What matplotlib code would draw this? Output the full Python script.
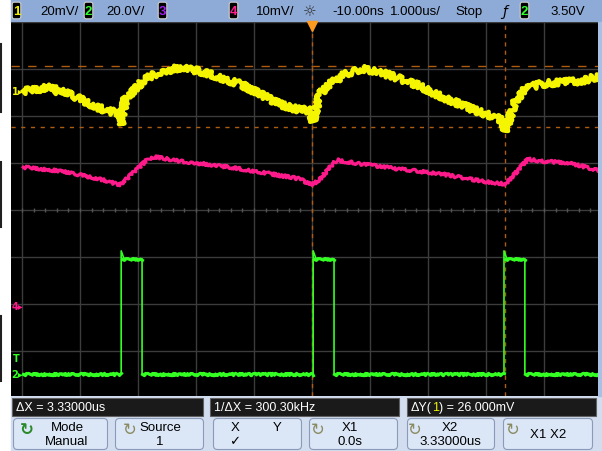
import matplotlib
matplotlib.use("Agg")
import matplotlib.pyplot as plt
from matplotlib.patches import Rectangle, FancyBboxPatch
import numpy as np

# ---------------- data (time in us, amplitude in screen divisions) ----------------
ch1_t = [-4.98, -4.69, -4.48, -4.43, -4.26, -4.00, -3.74, -3.55, -3.40, -3.31, -3.29,
         -3.22, -3.05, -2.88, -2.62, -2.22, -1.76, -1.24, -0.90, -0.55, -0.28, -0.02,
         0.02, 0.14, 0.31, 0.57, 0.88, 1.09, 1.43, 1.86, 2.21, 2.55, 2.90, 3.16, 3.29,
         3.33, 3.50, 3.67, 3.93, 4.28, 4.62, 4.97]
ch1_v = [2.52, 2.56, 2.65, 2.52, 2.50, 2.35, 2.20, 2.10, 2.07, 2.03, 1.82,
         2.35, 2.56, 2.78, 2.93, 3.03, 2.88, 2.67, 2.46, 2.24, 2.14, 2.10,
         1.88, 2.46, 2.67, 2.88, 2.99, 2.95, 2.82, 2.63, 2.41, 2.24, 2.07, 1.97, 1.88,
         1.67, 2.29, 2.56, 2.67, 2.71, 2.73, 2.84]

ch4_t = [-4.98, -4.34, -3.66, -3.31, -3.05, -2.83, -2.71, -2.28, -1.59, -0.90, -0.21,
         0.00, 0.14, 0.36, 0.43, 0.83, 1.52, 2.21, 2.90, 3.33, 3.50, 3.72, 3.93, 4.45, 4.97]
ch4_v = [0.90, 0.82, 0.65, 0.52, 0.82, 1.07, 1.12, 1.03, 0.93, 0.80, 0.65,
         0.52, 0.65, 0.97, 1.05, 0.97, 0.86, 0.76, 0.61, 0.54, 0.76, 1.07, 1.03, 0.99, 0.82]

ch2_rise = [-3.29, 0.02, 3.31]
ch2_fall = [-2.93, 0.38, 3.67]
ch2_low = -3.50
ch2_high = -1.05
ch2_peak = -0.88
ch2_start, ch2_end = -4.98, 4.97
ch4_marker = -2.05

x1_cursor = 0.0
x2_cursor = 3.33
ya_cursor = 3.05
yb_cursor = 1.755

top_labels = ["20mV/", "20.0V/", "10mV/", "-10.00ns", "1.000us/", "Stop", "3.50V"]
status_labels = ["ΔX = 3.33000us", "1/ΔX = 300.30kHz"]
dy_parts = ["ΔY(", "1", ") = 26.000mV"]
softkeys = [("Mode", "Manual"), ("Source", "1"), ("X", "✓"),
            ("X1", "0.0s"), ("X2", "3.33000us"), ("X1 X2", "")]

# ---------------- figure ----------------
W, H = 602, 452
fig = plt.figure(figsize=(W / 100, H / 100), dpi=100, facecolor="white")
FONT = ["Liberation Sans", "DejaVu Sans"]

ui = fig.add_axes([0, 0, 1, 1], zorder=0)
ui.set_xlim(0, W)
ui.set_ylim(H, 0)
ui.axis("off")

# left strip marks
for y0, y1 in [(45, 113), (163, 228), (317, 382)]:
    ui.plot([1, 1], [y0, y1], color="#202020", lw=1.5)

# top bar, bottom region, right border
ui.add_patch(Rectangle((11, 0), 591, 23, color="#8eaad6"))
ui.add_patch(Rectangle((11, 397), 591, 55, color="#d2def0"))
ui.add_patch(Rectangle((598, 23), 4, 374, color="#a8c0e4"))


def chbox(x, label, col):
    ui.add_patch(FancyBboxPatch((x, 4), 7, 15, boxstyle="round,pad=0.8,rounding_size=2",
                                fc="black", ec="#d0d0d0", lw=0.8))
    ui.text(x + 3.5, 12, label, color=col, fontsize=9.5, fontweight="bold",
            ha="center", va="center", family=FONT)


chbox(13, "1", "#f0f000")
chbox(85, "2", "#30ff30")
chbox(159, "3", "#a020f0")
chbox(230, "4", "#ff2090")
chbox(521, "2", "#30ff30")

tb = dict(color="black", fontsize=9.5, va="center", family=FONT)
ui.text(40, 12, top_labels[0], **tb)
ui.text(106, 12, top_labels[1], **tb)
ui.text(256, 12, top_labels[2], **tb)
ui.text(310, 12, "☼", color="#303030", fontsize=11, ha="center", va="center", family="DejaVu Sans")
ui.text(332, 12, top_labels[3], **tb)
ui.text(390, 12, top_labels[4], **tb)
ui.text(455, 12, top_labels[5], **tb)
ui.text(505, 12, "ƒ", color="black", fontsize=10, ha="center", va="center", family="DejaVu Sans", style="italic")
ui.text(550, 12, top_labels[6], **tb)

# status boxes
boxes = [(12, 203), (210, 399), (407, 596)]
for (x0, x1), lab in zip(boxes[:2], status_labels):
    ui.add_patch(Rectangle((x0, 399), x1 - x0, 18, fc="#1a1a1a", ec="#606060", lw=0.8))
    ui.text(x0 + 4, 408.5, lab, color="white", fontsize=9, va="center", family=FONT)
x0, x1 = boxes[2]
ui.add_patch(Rectangle((x0, 399), x1 - x0, 18, fc="#1a1a1a", ec="#606060", lw=0.8))
renderer = fig.canvas.get_renderer()
xp = x0 + 4
for part, col in zip(dy_parts, ["white", "#f0f000", "white"]):
    tt = ui.text(xp, 408.5, part, color=col, fontsize=9, va="center", family=FONT)
    bb = tt.get_window_extent(renderer=renderer)
    xp += bb.width * (W / fig.bbox.width)

# softkeys
key_x = [(13, 108), (115, 204), (213, 302), (309, 398), (407, 495), (503, 593)]
text_cx = [67, 160, 235, 350, 450, 548]
icon_x = [27, 130, None, 318, 415, 513]
for i, ((x0, x1), (l1, l2)) in enumerate(zip(key_x, softkeys)):
    ui.add_patch(FancyBboxPatch((x0 + 2, 421), x1 - x0 - 4, 28,
                                boxstyle="round,pad=1.5,rounding_size=4",
                                fc="#dbe7f7", ec="#8a9ab8", lw=0.8))
    cx = text_cx[i]
    if l2:
        ui.text(cx, 428.5, l1, ha="center", va="center", fontsize=9.5, family=FONT, color="black")
        ui.text(cx, 442, l2, ha="center", va="center", fontsize=9.5, family=["DejaVu Sans"] if l2 == "✓" else FONT, color="black")
    else:
        ui.text(cx, 435, l1, ha="center", va="center", fontsize=9.5, family=FONT, color="black")
    if icon_x[i] is not None:
        ui.text(icon_x[i], 430, "↻", ha="center", va="center", fontsize=12,
                color="#2a8a2a" if i == 0 else "#8a8a60", family="DejaVu Sans",
                fontweight="bold" if i == 0 else "normal")
ui.text(277, 428.5, "Y", ha="center", va="center", fontsize=9.5, family=FONT, color="black")

# ---------------- scope screen ----------------
L, R, T, B = 11, 598, 23, 397
ax = fig.add_axes([L / W, 1 - B / H, (R - L) / W, (B - T) / H], zorder=1)
ax.set_facecolor("black")
t_left = (L - 312) / 58.0
t_right = (R - 312) / 58.0
v_top = (210.5 - T) / 47.0
v_bot = (210.5 - B) / 47.0
ax.set_xlim(t_left, t_right)
ax.set_ylim(v_bot, v_top)
for s in ax.spines.values():
    s.set_visible(False)
ax.set_xticks([])
ax.set_yticks([])

gcol = "#3c3c3c"
for gx in range(-5, 6):
    ax.axvline(gx, color=gcol, lw=1.0, zorder=1)
for gy in range(-4, 5):
    ax.axhline(gy, color=gcol, lw=1.0, zorder=1)
ax.plot(np.arange(-5, 5.01, 0.2), np.zeros(51), ls="none", marker="|", ms=3, color="#555555", zorder=1)

# cursors
ccol = "#b05c10"
ax.axvline(x1_cursor, color=ccol, lw=1.0, ls=(0, (3, 3)), zorder=2)
ax.axvline(x2_cursor, color=ccol, lw=1.0, ls=(0, (3, 3)), zorder=2)
ax.axhline(ya_cursor, color=ccol, lw=1.0, ls=(0, (6, 6)), zorder=2)
ax.axhline(yb_cursor, color=ccol, lw=1.0, ls=(0, (3, 4)), zorder=2)

# traces
l4, = ax.plot(ch4_t, ch4_v, color="#ff1a8c", lw=2.2, zorder=4, solid_joinstyle="round")
l4.set_sketch_params(scale=1.5, length=2.0, randomness=6)
l1, = ax.plot(ch1_t, ch1_v, color="#f5f500", lw=3.2, zorder=5, solid_joinstyle="round")
l1.set_sketch_params(scale=3.2, length=2.0, randomness=6)

gt = [ch2_start]
gv = [ch2_low]
for r, f in zip(ch2_rise, ch2_fall):
    gt += [r, r, r + 0.05, f, f]
    gv += [ch2_low, ch2_peak, ch2_high, ch2_high, ch2_low]
gt.append(ch2_end)
gv.append(ch2_low)
ax.plot(gt, gv, color="#33ff22", lw=1.2, zorder=3)
for seg0, seg1 in zip([ch2_start] + ch2_fall, ch2_rise + [ch2_end]):
    lg, = ax.plot([seg0, seg1], [ch2_low, ch2_low], color="#33ff22", lw=2.2, zorder=3)
    lg.set_sketch_params(scale=1.2, length=2.0, randomness=6)
for r, f in zip(ch2_rise, ch2_fall):
    lg, = ax.plot([r + 0.02, f], [ch2_high, ch2_high], color="#33ff22", lw=2.2, zorder=3)
    lg.set_sketch_params(scale=1.0, length=2.0, randomness=6)

# trigger marker
ax.plot([0], [v_top - 0.08], marker="v", color="#ff9a20", ms=7, zorder=6, clip_on=False)

# channel markers on the left
mk = dict(fontsize=7, va="center", ha="left", family="DejaVu Sans", zorder=6, fontweight="bold")
ax.text(t_left + 0.01, ch1_v[0], "1▸", color="#f5f500", **mk)
ax.text(t_left + 0.01, ch4_marker, "4▸", color="#ff1a8c", **mk)
ax.text(t_left + 0.01, ch2_low, "2▸", color="#33ff22", **mk)
ax.text(t_left + 0.04, ch2_low + 0.35, "T", color="#33ff22", **mk)

fig.savefig("out.png", dpi=100, facecolor=fig.get_facecolor())
